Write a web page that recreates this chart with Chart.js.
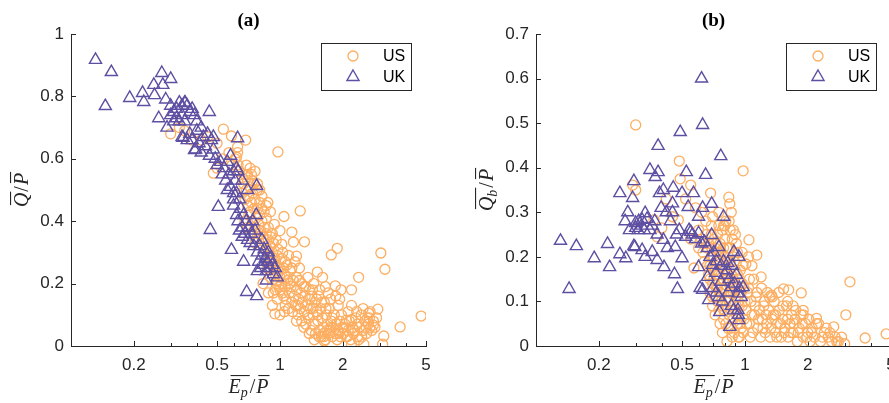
<!DOCTYPE html>
<html>
<head>
<meta charset="utf-8">
<script src="https://cdn.jsdelivr.net/npm/chart.js@4.4.0/dist/chart.umd.min.js"></script>
<style>
  html, body { margin:0; padding:0; background:#fff; overflow:hidden; width:889px; height:403px; }
  canvas { position:absolute; top:0; }
  #chartA { left:0; }
  #chartB { left:445px; }
</style>
</head>
<body>
<canvas id="chartA" width="445" height="403"></canvas>
<canvas id="chartB" width="470" height="403"></canvas>
<script>
// ---- data (Ep/P, Q/P) ----
var ukA = [[0.131,0.917],[0.156,0.878],[0.146,0.769],[0.191,0.795],[0.220,0.811],[0.223,0.782],[0.251,0.804],[0.249,0.837],[0.272,0.875],[0.275,0.837],[0.300,0.856],[0.284,0.790],[0.263,0.730],[0.288,0.700],
  [0.300,0.770],[0.310,0.750],[0.320,0.730],[0.330,0.780],[0.340,0.770],[0.350,0.780],[0.360,0.770],[0.330,0.720],[0.310,0.720],[0.300,0.740],[0.320,0.760],[0.340,0.740],[0.370,0.750],[0.380,0.760],[0.390,0.740],[0.350,0.720],[0.352,0.779],[0.459,0.750],[0.344,0.667],[0.390,0.628],
  [0.340,0.670],[0.360,0.660],[0.370,0.680],[0.380,0.660],[0.395,0.630],[0.400,0.690],[0.410,0.650],[0.420,0.620],[0.430,0.670],[0.440,0.640],[0.450,0.680],[0.460,0.610],[0.470,0.660],[0.480,0.630],[0.490,0.600],[0.400,0.720],[0.420,0.700],[0.480,0.670],[0.627,0.666],[0.580,0.610],
  [0.500,0.580],[0.520,0.590],[0.530,0.550],[0.540,0.570],[0.550,0.530],[0.560,0.590],[0.570,0.550],[0.580,0.510],[0.600,0.560],[0.610,0.530],[0.620,0.490],[0.630,0.560],[0.640,0.470],[0.600,0.470],[0.560,0.500],[0.620,0.570],
  [0.507,0.446],[0.464,0.372],[0.586,0.308],[0.670,0.270],[0.693,0.173],[0.774,0.160],[0.774,0.513],
  [0.600,0.450],[0.620,0.420],[0.630,0.400],[0.650,0.440],[0.660,0.380],[0.670,0.420],[0.680,0.360],[0.690,0.400],[0.700,0.340],[0.710,0.380],[0.720,0.330],[0.730,0.360],[0.740,0.400],[0.750,0.320],[0.760,0.370],[0.660,0.350],[0.640,0.370],[0.770,0.420],[0.700,0.500],[0.660,0.530],[0.600,0.490],
  [0.780,0.300],[0.790,0.270],[0.800,0.320],[0.810,0.250],[0.820,0.290],[0.830,0.260],[0.840,0.310],[0.850,0.280],[0.860,0.240],[0.870,0.270],[0.880,0.300],[0.890,0.250],[0.900,0.280],[0.920,0.260],[0.930,0.230],[0.950,0.250],[0.970,0.220],[0.780,0.240],[0.820,0.340],[0.860,0.210]];

var usA = [[0.300,0.680],[0.536,0.695],[0.586,0.673],[0.685,0.660],[0.627,0.638],[0.627,0.620],[0.620,0.605],[0.480,0.554],[0.978,0.622],[0.875,0.460],[1.045,0.415],[1.250,0.433],[1.140,0.365],[1.310,0.334],[1.160,0.333],[1.020,0.326],[1.200,0.288],[1.760,0.292],[1.880,0.313],[3.040,0.298],[3.180,0.246],[2.380,0.220],[1.510,0.237],[1.240,0.250],[1.840,0.193],[2.200,0.180],[1.930,0.150],[2.330,0.110],[2.940,0.118],[2.660,0.105],[0.946,0.103],[4.740,0.096],[3.760,0.061],[3.140,0.032],[3.100,0.006],[2.200,0.006],[2.520,0.006],[1.630,0.016],[1.620,0.030],[2.080,0.083],[2.200,0.085],[2.690,0.058],[2.800,0.067],[2.460,0.029],
  [0.330,0.700],[0.350,0.690],[0.380,0.660],[0.420,0.660],[0.450,0.670],[0.500,0.650],[0.500,0.570],[0.530,0.600],[0.570,0.620],[0.590,0.580],[0.610,0.600],[0.630,0.580],
  [0.640,0.560],[0.660,0.540],[0.670,0.520],[0.680,0.550],[0.690,0.500],[0.700,0.530],[0.710,0.480],[0.720,0.510],[0.730,0.460],[0.740,0.490],[0.750,0.440],[0.680,0.470],[0.700,0.450],[0.720,0.430],[0.660,0.490],[0.760,0.470],[0.770,0.410],[0.780,0.440],[0.790,0.390],[0.800,0.420],[0.810,0.370],[0.820,0.400],[0.830,0.350],[0.840,0.380],[0.850,0.330],[0.860,0.360],[0.870,0.310],[0.880,0.340],[0.890,0.290],[0.900,0.320],[0.910,0.270],[0.920,0.300],[0.930,0.250],[0.940,0.280],[0.950,0.230],[0.960,0.260],[0.970,0.210],[0.980,0.240],[0.990,0.190],[1.000,0.220],[0.740,0.400],[0.760,0.380],[0.780,0.350],[0.800,0.360],[0.710,0.420],[0.690,0.580],[0.730,0.550],[0.800,0.460],[0.750,0.520],[0.720,0.570],[0.840,0.430],[0.780,0.500],[0.760,0.330],[0.720,0.360],[0.700,0.380],[0.680,0.400],[0.830,0.200],[0.880,0.170],[0.900,0.220],[0.950,0.180],[0.920,0.130],[1.000,0.100],[1.050,0.110],[0.870,0.250],
  [0.70,0.55],[0.74,0.53],[0.78,0.52],[0.82,0.48],[0.86,0.45],[0.76,0.56],[0.80,0.50],[0.82,0.44],[0.86,0.41],[0.90,0.43],[0.94,0.39],[0.88,0.38],[0.92,0.36],[0.96,0.34],[1.00,0.37],[0.98,0.31],[1.03,0.30],[0.90,0.35],[0.93,0.33],[1.02,0.28],[1.06,0.27],[1.10,0.29],[0.97,0.29],[1.00,0.25],[1.04,0.25],[1.14,0.25],[0.95,0.27],
  [0.96,0.20],[1.00,0.18],[1.04,0.16],[1.08,0.22],[1.12,0.20],[1.20,0.22],[1.27,0.20],[1.33,0.19],[1.38,0.18],[1.42,0.16],[1.50,0.15],[1.58,0.14],[0.93,0.17],[0.97,0.15],[1.06,0.13],
  [1.20,0.08],[1.30,0.06],[1.38,0.04],[1.46,0.02],[1.54,0.03],[1.62,0.04],[1.68,0.05],[1.75,0.06],[1.92,0.04],[2.02,0.06],[2.10,0.03],[2.28,0.05],[2.38,0.02],[2.58,0.06],[2.62,0.09],[1.52,0.10],[1.44,0.12],[1.36,0.10],[1.22,0.13],[1.78,0.09],[1.97,0.10],[2.12,0.11],[1.90,0.13],[1.75,0.15],[1.96,0.18],[2.20,0.13],[2.50,0.12],[2.68,0.09],[2.35,0.07],[1.66,0.12],
  [1.02,0.20],[1.03,0.17],[1.05,0.23],[1.06,0.19],[1.07,0.15],[1.08,0.26],[1.09,0.21],[1.10,0.12],[1.11,0.17],[1.12,0.24],[1.13,0.19],[1.14,0.14],[1.15,0.11],[1.16,0.21],[1.17,0.16],[1.18,0.27],[1.19,0.13],[1.20,0.18],[1.22,0.10],[1.23,0.15],[1.24,0.21],[1.25,0.12],[1.26,0.17],[1.27,0.08],[1.28,0.14],[1.30,0.19],[1.31,0.11],[1.32,0.16],[1.33,0.07],[1.35,0.13],[1.36,0.22],[1.37,0.09],[1.39,0.15],[1.40,0.12],[1.41,0.05],[1.43,0.18],[1.44,0.10],[1.45,0.07],[1.47,0.14],[1.48,0.04],[1.50,0.11],[1.52,0.08],[1.53,0.16],[1.55,0.05],[1.57,0.12],[1.58,0.03],[1.60,0.09],[1.62,0.06],[1.63,0.14],[1.65,0.02],[1.67,0.10],[1.69,0.07],[1.70,0.04],[1.72,0.12],[1.74,0.05],[1.76,0.08],[1.78,0.03],[1.80,0.06],[1.82,0.10],[1.84,0.04],[1.86,0.07],[1.88,0.02],[1.90,0.05],[1.93,0.08],[1.95,0.03],[1.98,0.06],[2.00,0.04],[2.05,0.07],[2.08,0.03],[2.12,0.05],[2.15,0.08],[2.18,0.02],[2.22,0.06],[2.25,0.04],[2.30,0.09],[2.35,0.03],[2.40,0.06],[2.45,0.10],[2.50,0.05],[2.55,0.08],[2.60,0.04],[2.65,0.07],[2.70,0.11],[2.75,0.05],[2.80,0.08],[2.85,0.06],[2.90,0.09],[1.45,0.20],[1.55,0.18],[1.65,0.19],[1.70,0.17],[1.85,0.16],[1.60,0.22]];

// ---- data (Ep/P, Qb/P) ----
var ukB = [[0.131,0.236],[0.156,0.224],[0.144,0.128],[0.190,0.197],[0.220,0.229],[0.225,0.177],[0.252,0.206],[0.269,0.197],[0.252,0.343],[0.294,0.370],[0.290,0.332],[0.275,0.300],[0.297,0.222],[0.351,0.395],[0.384,0.449],[0.372,0.379],[0.384,0.390],[0.490,0.480],[0.620,0.600],[0.627,0.496],[0.766,0.426],[0.648,0.384],[0.524,0.390],[0.454,0.355],[0.500,0.343],[0.567,0.343],[0.407,0.350],[0.397,0.310],[0.450,0.320],[0.535,0.312],[0.627,0.310],[0.693,0.319],[0.790,0.290],[0.600,0.290],[0.485,0.260],[0.550,0.256],[0.600,0.253],[0.640,0.233],[0.693,0.249],[0.750,0.222],[0.885,0.211],[0.935,0.200],[0.828,0.186],[0.790,0.190],[0.700,0.182],[0.600,0.177],[0.662,0.155],[0.724,0.164],[0.766,0.144],[0.856,0.132],[0.980,0.132],[0.925,0.118],[0.925,0.081],[0.935,0.058],[0.846,0.043],[0.757,0.076],[0.670,0.103],[0.627,0.126],[0.610,0.130],[0.475,0.128],[0.460,0.161],[0.410,0.177],[0.380,0.193],[0.333,0.200],[0.322,0.215],[0.360,0.211],[0.425,0.220],[0.464,0.222],[0.500,0.197],[0.407,0.238],[0.300,0.276],[0.322,0.283],[0.333,0.298],[0.267,0.280],[0.280,0.260],[0.308,0.260],[0.351,0.260],[0.390,0.343],
  [0.294,0.224],[0.31,0.28],[0.32,0.27],[0.33,0.26],[0.34,0.285],[0.30,0.265],[0.36,0.27],[0.37,0.28],[0.38,0.25],[0.42,0.30],[0.44,0.28],[0.45,0.30],[0.47,0.25],[0.52,0.245],[0.54,0.26],[0.56,0.25],[0.58,0.24],[0.62,0.23],[0.66,0.22],[0.68,0.20],[0.71,0.21],[0.73,0.19],[0.77,0.18],[0.80,0.16],[0.82,0.17],[0.84,0.15],[0.87,0.18],[0.89,0.14],[0.91,0.16],[0.94,0.13],[0.96,0.11],[0.70,0.13],[0.73,0.12],[0.75,0.11],[0.78,0.10],[0.83,0.12],[0.86,0.09],[0.88,0.08],[0.93,0.07]];

var usB = [[0.300,0.496],[0.485,0.415],[0.980,0.393],[0.490,0.375],[0.550,0.361],[0.685,0.343],[0.837,0.334],[0.846,0.319],[0.290,0.361],[0.300,0.350],[0.367,0.283],[0.400,0.265],[0.380,0.245],[0.480,0.283],[0.570,0.175],[1.045,0.238],[1.140,0.204],[1.010,0.184],[1.195,0.155],[1.050,0.150],[3.180,0.144],[3.040,0.070],[3.760,0.018],[4.740,0.027],[1.860,0.119],[1.530,0.128],[1.620,0.126],[1.310,0.110],[2.200,0.062],[2.660,0.043],[1.900,0.070],[1.340,0.114],
  [0.52,0.33],[0.58,0.31],[0.62,0.30],[0.65,0.28],[0.70,0.29],[0.75,0.30],[0.80,0.27],[0.84,0.28],[0.88,0.26],[0.90,0.25],[0.60,0.26],[0.55,0.24],[0.45,0.29],[0.42,0.33],
  [0.66,0.22],[0.68,0.18],[0.69,0.25],[0.70,0.14],[0.71,0.20],[0.72,0.11],[0.73,0.23],[0.74,0.16],[0.75,0.08],[0.76,0.19],[0.77,0.13],[0.78,0.26],[0.79,0.06],[0.80,0.17],[0.81,0.10],[0.82,0.22],[0.83,0.04],[0.84,0.14],[0.85,0.19],[0.86,0.08],[0.87,0.24],[0.88,0.12],[0.89,0.03],[0.90,0.17],[0.91,0.07],[0.92,0.21],[0.93,0.10],[0.94,0.15],[0.95,0.05],[0.96,0.12],[0.97,0.09],[0.98,0.18],[0.99,0.06],[0.70,0.09],[0.72,0.17],[0.74,0.21],[0.76,0.12],[0.78,0.09],[0.80,0.24],[0.82,0.15],[0.84,0.07],[0.86,0.16],[0.88,0.20],[0.90,0.11],[0.92,0.05],[0.94,0.02],[0.68,0.12],[0.67,0.16],[0.75,0.27],[0.81,0.28],[0.85,0.26],[0.87,0.02],[0.83,0.11],[0.79,0.15],[0.77,0.21],[0.73,0.13],[0.71,0.24],[0.64,0.19],[0.62,0.24],[0.60,0.22],
  [0.63,0.21],[0.65,0.25],[0.66,0.18],[0.67,0.23],[0.69,0.20],[0.70,0.17],[0.71,0.15],[0.72,0.22],[0.73,0.19],[0.74,0.13],[0.75,0.16],[0.76,0.23],[0.77,0.10],[0.78,0.18],[0.79,0.22],[0.80,0.13],[0.81,0.05],[0.82,0.19],[0.83,0.16],[0.84,0.22],[0.85,0.12],[0.86,0.04],[0.87,0.14],[0.88,0.06],[0.89,0.19],[0.90,0.08],[0.91,0.13],[0.92,0.16],[0.93,0.02],[0.94,0.09],[0.95,0.12],[0.96,0.04],[0.97,0.14],[0.98,0.03],[1.00,0.10],[1.02,0.05],[1.04,0.13],[1.06,0.02],[1.08,0.07],[0.72,0.07],[0.74,0.10],[0.76,0.05],[0.78,0.03],[0.80,0.08],[0.82,0.01],[0.84,0.10],[0.86,0.12],[0.88,0.15],[0.70,0.11],[0.68,0.15],[0.75,0.20],[0.80,0.20],[0.85,0.22],[0.90,0.14],[0.95,0.17],[0.99,0.13],[0.64,0.23],[0.69,0.27],[0.74,0.25],[0.79,0.27],[0.86,0.30],[0.91,0.23],[0.97,0.21],
  [1.01,0.08],[1.03,0.12],[1.05,0.05],[1.07,0.10],[1.09,0.03],[1.11,0.07],[1.13,0.11],[1.15,0.04],[1.17,0.08],[1.19,0.02],[1.21,0.06],[1.23,0.09],[1.25,0.03],[1.27,0.05],[1.30,0.08],[1.32,0.02],[1.35,0.06],[1.38,0.10],[1.40,0.03],[1.43,0.05],[1.46,0.08],[1.49,0.02],[1.52,0.06],[1.55,0.04],[1.58,0.09],[1.61,0.02],[1.64,0.05],[1.67,0.07],[1.70,0.03],[1.74,0.06],[1.78,0.01],[1.82,0.04],[1.86,0.07],[1.90,0.02],[1.95,0.05],[2.00,0.03],[2.05,0.01],[2.10,0.04],[2.15,0.02],[2.20,0.05],[2.30,0.01],[2.40,0.03],[2.50,0.02],[2.60,0.01],[2.70,0.02],[2.80,0.01],[2.90,0.02],[3.00,0.005],[1.45,0.12],[1.60,0.10],[1.70,0.09],[1.35,0.11],[1.20,0.13],[1.10,0.15],[1.28,0.12],[2.25,0.05],[2.45,0.04],[1.90,0.08],[1.08,0.18],[1.04,0.20],
  [1.12,0.09],[1.16,0.06],[1.22,0.04],[1.26,0.07],[1.33,0.04],[1.37,0.07],[1.42,0.02],[1.48,0.05],[1.54,0.03],[1.60,0.06],[1.66,0.03],[1.72,0.05],[1.80,0.03],[1.88,0.05],[1.98,0.02],[2.08,0.03],[2.35,0.02],[2.55,0.03],[2.75,0.01],[1.14,0.12],[1.24,0.10],[1.52,0.09],[1.75,0.08],[2.02,0.06],[1.40,0.07]];

// ---- ticks ----
var xTicks = [0.1,0.2,0.3,0.4,0.5,0.6,0.7,0.8,0.9,1,2,3,4,5];
var xTickLabels = [0.2,0.5,1,2,5];
var yTicksA = [0,0.2,0.4,0.6,0.8,1];
var yTicksB = [0,0.1,0.2,0.3,0.4,0.5,0.6,0.7];

var usColor = '#FDAE61';
var ukColor = '#5E4FA2';
var axisColor = '#262626';

function toXY(arr) {
  return arr.map(function(p) { return {x: p[0], y: p[1]}; });
}

// overlined math text, e.g. Q/P with bars
function drawMath(ctx, parts, cx, baseY) {
  var mainFont = 'italic 20px "Liberation Serif"';
  var upFont = '20px "Liberation Serif"';
  var subFont = 'italic 14px "Liberation Serif"';
  var items = parts.map(function(p) {
    ctx.font = p.up ? upFont : mainFont;
    var w1 = ctx.measureText(p.t).width;
    var w2 = 0;
    if (p.sub) { ctx.font = subFont; w2 = ctx.measureText(p.sub).width + 1; }
    return {t: p.t, sub: p.sub, over: p.over, up: p.up, w1: w1, w2: w2, w: w1 + w2 + (p.gap || 0)};
  });
  var total = items.reduce(function(s, i) { return s + i.w; }, 0);
  var x = cx - total / 2;
  ctx.textAlign = 'left';
  ctx.textBaseline = 'alphabetic';
  items.forEach(function(it) {
    ctx.font = it.up ? upFont : mainFont;
    ctx.fillText(it.t, x, baseY);
    if (it.sub) { ctx.font = subFont; ctx.fillText(it.sub, x + it.w1, baseY + 4); }
    if (it.over) { ctx.fillRect(x + 2, baseY - 18, it.w1 + it.w2 - 1, 1.1); }
    x += it.w;
  });
}

var insideTicks = {
  id: 'insideTicks',
  beforeDatasetsDraw: function(chart) {
    var ctx = chart.ctx, a = chart.chartArea, sx = chart.scales.x, sy = chart.scales.y;
    ctx.save();
    ctx.strokeStyle = axisColor;
    ctx.lineWidth = 1;
    ctx.beginPath();
    sx.ticks.forEach(function(t) {
      var px = Math.round(sx.getPixelForValue(t.value)) + 0.5;
      var len = xTickLabels.indexOf(t.value) >= 0 ? 5 : 3;
      ctx.moveTo(px, a.bottom); ctx.lineTo(px, a.bottom - len);
    });
    sy.ticks.forEach(function(t) {
      var py = Math.round(sy.getPixelForValue(t.value)) + 0.5;
      ctx.moveTo(a.left, py); ctx.lineTo(a.left + 5, py);
    });
    ctx.stroke();
    ctx.restore();
  }
};

var decorations = {
  id: 'decorations',
  afterDraw: function(chart, args, opts) {
    var ctx = chart.ctx, a = chart.chartArea;
    var cx = (a.left + a.right) / 2;
    ctx.save();
    // title
    ctx.fillStyle = '#000';
    ctx.font = 'bold 19px "Liberation Serif"';
    ctx.textAlign = 'center';
    ctx.textBaseline = 'middle';
    ctx.fillText(opts.title, cx, 21);
    // axis labels
    ctx.fillStyle = axisColor;
    drawMath(ctx, [{t: 'E', sub: 'p', over: true, gap: 1}, {t: '/', up: true, gap: 1}, {t: 'P', over: true}], cx, 393);
    ctx.save();
    ctx.translate(a.left - 43, (a.top + a.bottom) / 2);
    ctx.rotate(-Math.PI / 2);
    drawMath(ctx, opts.yParts, 0, 0);
    ctx.restore();
    // legend
    var boxR = a.right - 15, boxL = boxR - 90, boxT = a.top + 9;
    ctx.fillStyle = '#fff';
    ctx.fillRect(boxL, boxT, 90, 47);
    ctx.strokeStyle = axisColor;
    ctx.lineWidth = 1;
    ctx.strokeRect(boxL + 0.5, boxT + 0.5, 90, 47);
    var rows = [{ds: chart.data.datasets[1], y: boxT + 13}, {ds: chart.data.datasets[0], y: boxT + 34}];
    rows.forEach(function(r) {
      ctx.strokeStyle = r.ds.borderColor;
      ctx.fillStyle = 'rgba(0,0,0,0)';
      ctx.lineWidth = r.ds.borderWidth;
      Chart.helpers.drawPoint(ctx, {pointStyle: r.ds.pointStyle, radius: r.ds.pointRadius, borderWidth: r.ds.borderWidth, rotation: 0}, boxL + 32, r.y);
      ctx.fillStyle = '#000';
      ctx.font = '16px "Liberation Sans"';
      ctx.textAlign = 'left';
      ctx.textBaseline = 'middle';
      ctx.fillText(r.ds.label, boxL + 62, r.y + 1);
    });
    ctx.restore();
  }
};

function makeChart(id, us, uk, yMax, yTicks, yWidth, padRight, title, yParts) {
  return new Chart(document.getElementById(id), {
    type: 'scatter',
    data: {
      datasets: [{
        label: 'UK',
        data: toXY(uk),
        pointStyle: 'triangle',
        pointRadius: 7,
        borderWidth: 1.4,
        borderColor: ukColor,
        backgroundColor: 'rgba(0,0,0,0)'
      }, {
        label: 'US',
        data: toXY(us),
        pointStyle: 'circle',
        pointRadius: 5,
        borderWidth: 1.3,
        borderColor: usColor,
        backgroundColor: 'rgba(0,0,0,0)'
      }]
    },
    options: {
      responsive: false,
      animation: false,
      devicePixelRatio: 1,
      events: [],
      layout: {padding: {top: 34, right: padRight, left: 0, bottom: 0}},
      plugins: {
        legend: {display: false},
        tooltip: {enabled: false},
        decorations: {title: title, yParts: yParts}
      },
      scales: {
        x: {
          type: 'logarithmic',
          min: 0.1,
          max: 5,
          afterBuildTicks: function(s) { s.ticks = xTicks.map(function(v) { return {value: v}; }); },
          afterFit: function(s) { s.height = 57; },
          grid: {display: false, drawTicks: false},
          border: {display: true, color: axisColor, width: 1},
          ticks: {
            autoSkip: false, maxRotation: 0, padding: 9, color: axisColor,
            font: {family: '"Liberation Sans"', size: 17},
            callback: function(v) { return xTickLabels.indexOf(v) >= 0 ? String(v) : ''; }
          }
        },
        y: {
          min: 0,
          max: yMax,
          afterBuildTicks: function(s) { s.ticks = yTicks.map(function(v) { return {value: v}; }); },
          afterFit: function(s) { s.width = yWidth; },
          grid: {display: false, drawTicks: false},
          border: {display: true, color: axisColor, width: 1},
          ticks: {
            autoSkip: false, padding: 7, color: axisColor,
            font: {family: '"Liberation Sans"', size: 17},
            callback: function(v) { return String(v); }
          }
        }
      }
    },
    plugins: [insideTicks, decorations]
  });
}

makeChart('chartA', usA, ukA, 1, yTicksA, 71, 19, '(a)',
  [{t: 'Q', over: true, gap: 1}, {t: '/', up: true, gap: 1}, {t: 'P', over: true}]);
makeChart('chartB', usB, ukB, 0.7, yTicksB, 91, 24, '(b)',
  [{t: 'Q', sub: 'b', over: true, gap: 1}, {t: '/', up: true, gap: 1}, {t: 'P', over: true}]);
</script>
</body>
</html>
